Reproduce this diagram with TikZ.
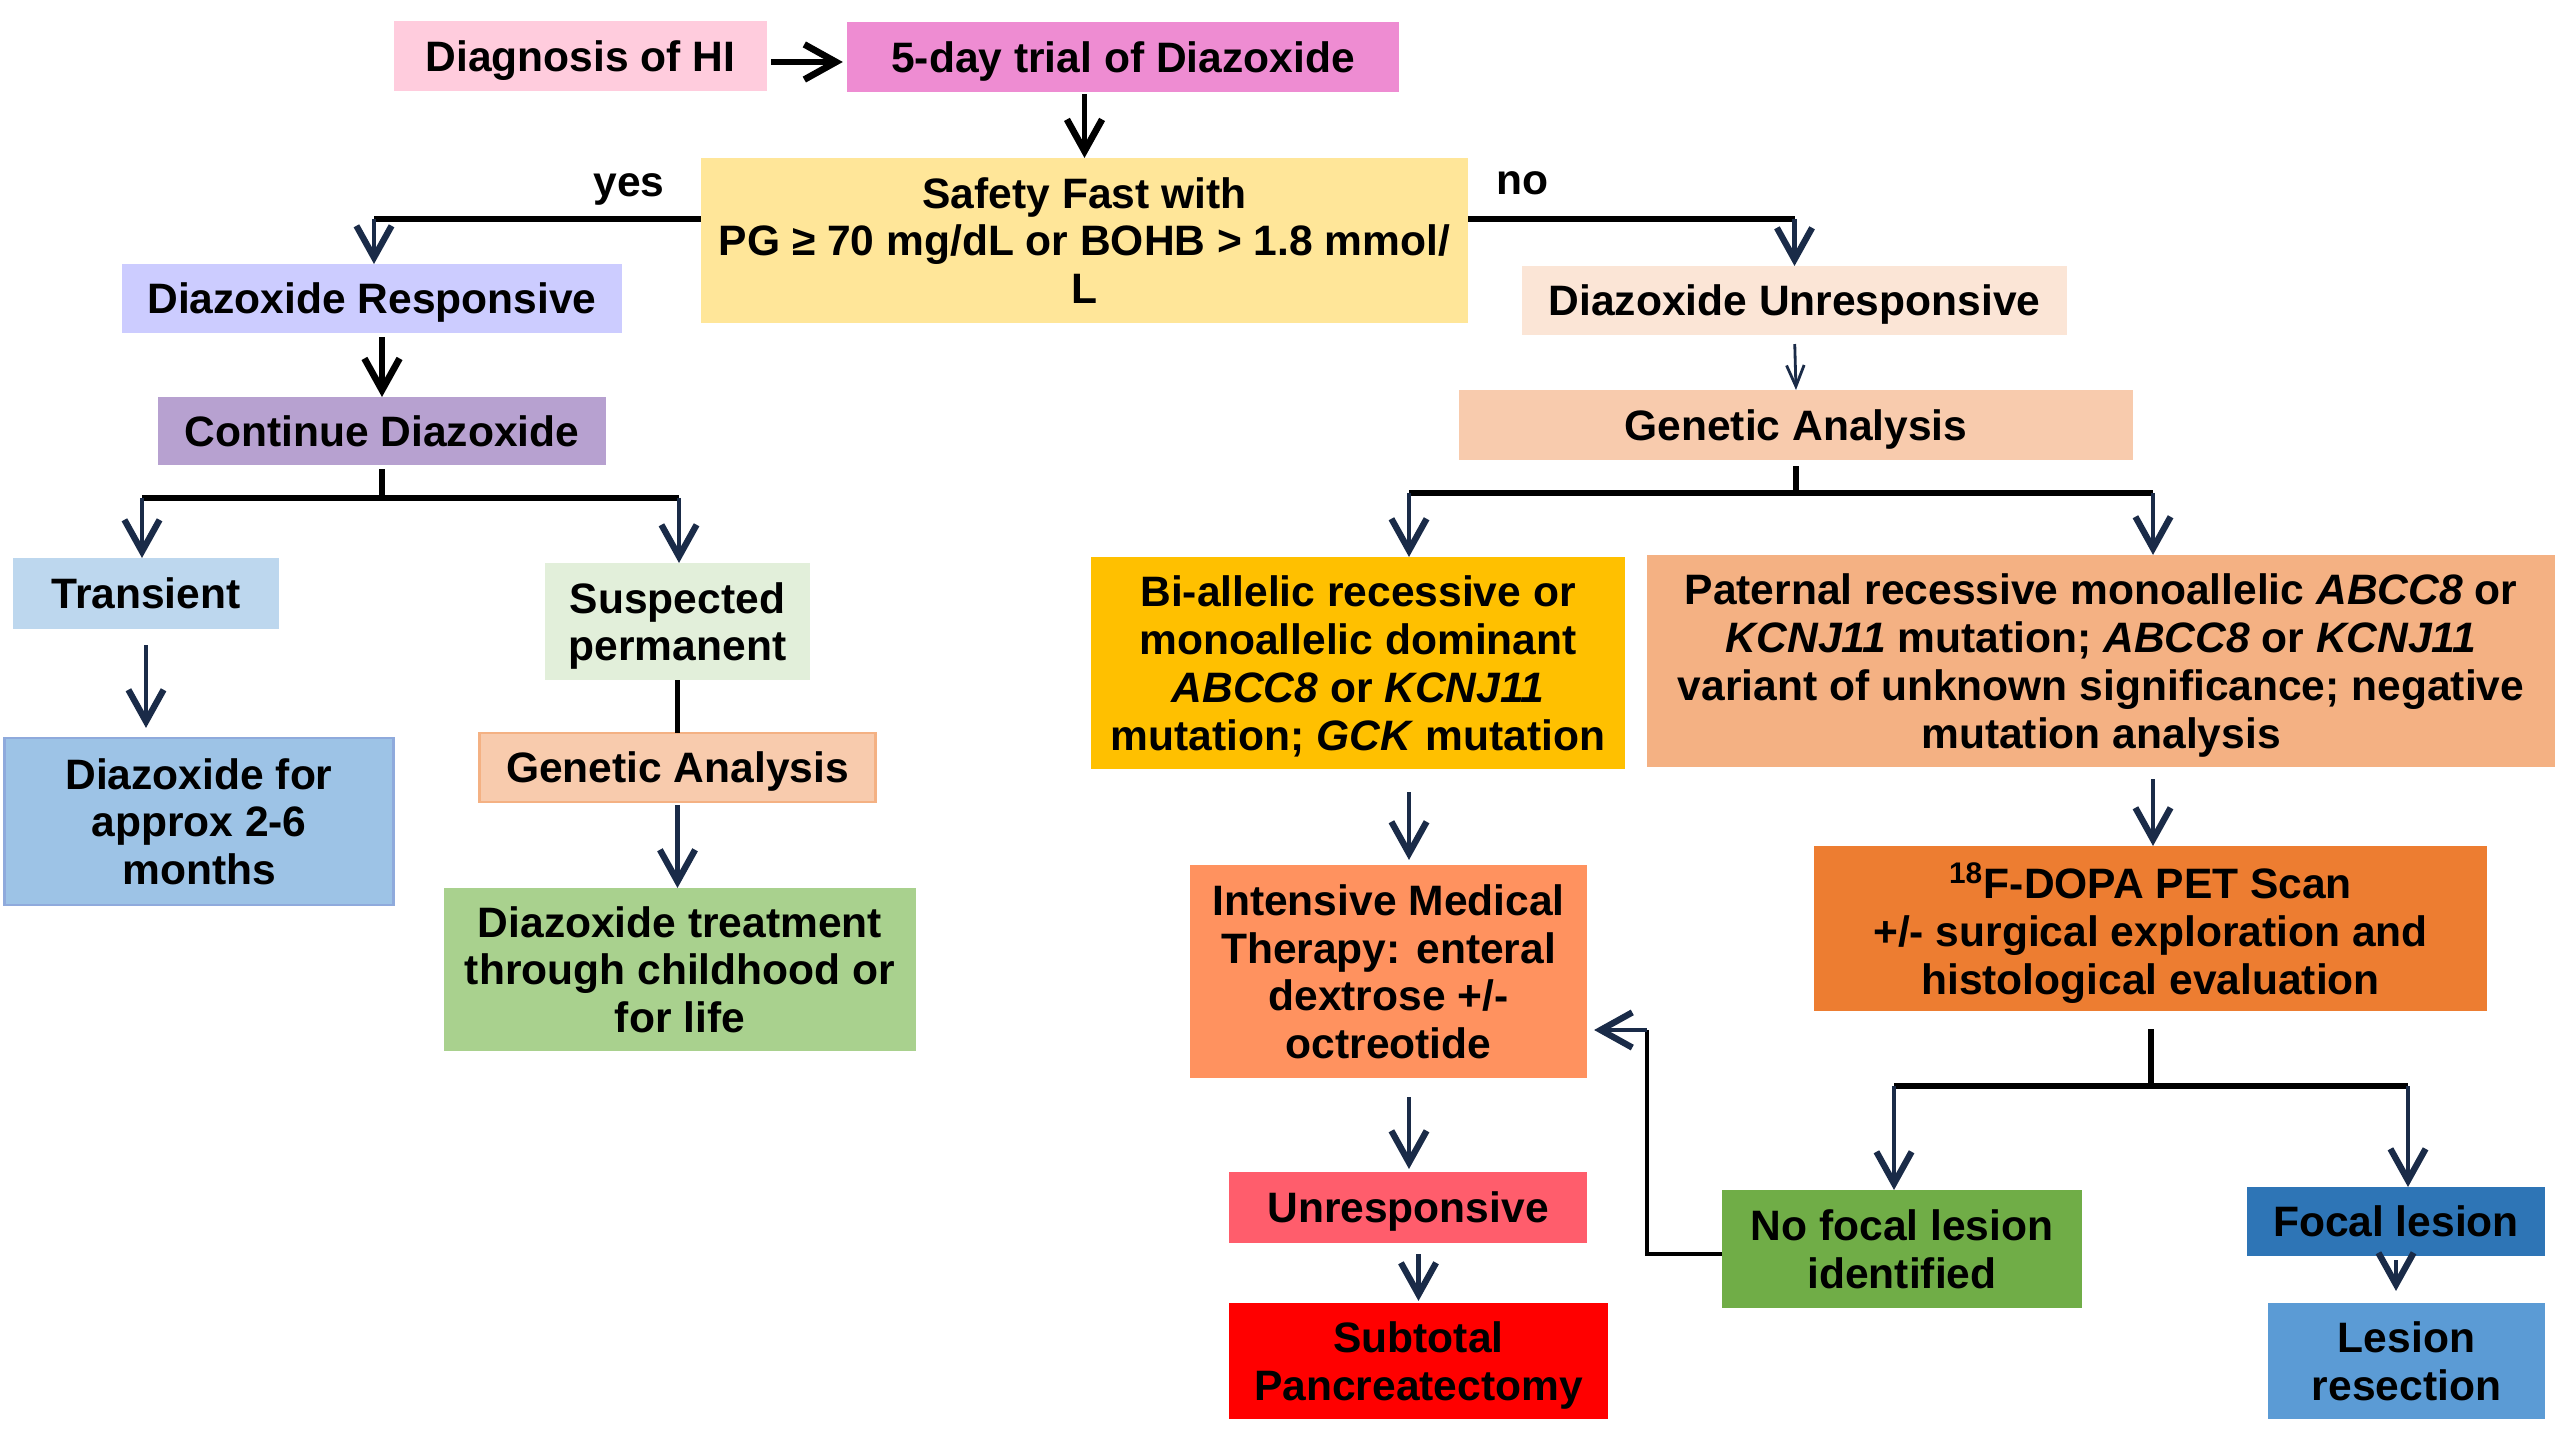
\documentclass[tikz,border=0pt]{standalone}
\usepackage{fontspec}
\setmainfont{Liberation Sans}
\usetikzlibrary{arrows.meta}
\definecolor{navy}{HTML}{1A2B48}
\definecolor{cDiag}{HTML}{FFCCDD}
\definecolor{cTrial}{HTML}{EE8CD2}
\definecolor{cSafe}{HTML}{FFE699}
\definecolor{cResp}{HTML}{CCCCFF}
\definecolor{cCont}{HTML}{B7A1D0}
\definecolor{cTrans}{HTML}{BDD7EE}
\definecolor{cApprox}{HTML}{9DC3E6}
\definecolor{cApproxB}{HTML}{8FAADC}
\definecolor{cSusp}{HTML}{E2EFDA}
\definecolor{cGen}{HTML}{F8CBAD}
\definecolor{cGenB}{HTML}{F4B183}
\definecolor{cTreat}{HTML}{A9D18E}
\definecolor{cUnresp}{HTML}{FBE5D6}
\definecolor{cBi}{HTML}{FFC000}
\definecolor{cPat}{HTML}{F4B183}
\definecolor{cInt}{HTML}{FF925F}
\definecolor{cUnr}{HTML}{FF5D6C}
\definecolor{cSub}{HTML}{FF0000}
\definecolor{cDopa}{HTML}{ED7D31}
\definecolor{cNof}{HTML}{70AD47}
\definecolor{cFoc}{HTML}{2E75B6}
\definecolor{cLes}{HTML}{5B9BD5}
\newcommand\nd[1]{\raisebox{0pt}[\height][0pt]{#1}}
\begin{document}
\begin{tikzpicture}[x=0.01cm,y=-0.01cm,
  bx/.style={inner sep=0pt, outer sep=0pt, align=center, font=\fontsize{12.1}{13.6}\selectfont\bfseries},
  lbl/.style={inner sep=0pt, font=\fontsize{12.1}{13.6}\selectfont\bfseries},
  stem/.style={line width=1.7pt, black},
  arr/.style={line width=1.4pt, navy, -{Straight Barb[length=9pt,width=10pt,line width=1.8pt]}},
  barr/.style={line width=1.6pt, black, -{Straight Barb[length=9pt,width=10pt,line width=1.9pt]}},
  thinarr/.style={line width=0.8pt, navy, -{Straight Barb[length=6pt,width=5pt,line width=0.8pt]}},
]
\useasboundingbox (0,0) rectangle (2560,1440);

% nodes
\node[bx, fill=cDiag, minimum width=3.73cm, minimum height=0.70cm] (diag) at (580.5,56) {\nd{Diagnosis of HI}};
\node[bx, fill=cTrial, minimum width=5.52cm, minimum height=0.70cm] (trial) at (1123,57) {\nd{5-day trial of Diazoxide}};
\node[bx, fill=cSafe, minimum width=7.67cm, minimum height=1.65cm] (safety) at (1084.5,240.5) {Safety Fast with\\PG ≥ 70 mg/dL or BOHB > 1.8 mmol/\\\nd{L}};
\node[lbl] (yes) at (629,185) {\nd{yes}};
\node[lbl] (no) at (1522,183) {\nd{no}};

\node[bx, fill=cResp, minimum width=5.00cm, minimum height=0.69cm] (resp) at (372,298.5) {\nd{Diazoxide Responsive}};
\node[bx, fill=cCont, minimum width=4.48cm, minimum height=0.68cm] (cont) at (382,431) {\nd{Continue Diazoxide}};
\node[bx, fill=cTrans, minimum width=2.66cm, minimum height=0.71cm] (trans) at (146,593.5) {\nd{Transient}};
\node[bx, fill=cApprox, draw=cApproxB, line width=0.8pt, minimum width=3.88cm, minimum height=1.67cm] (approx) at (199,821.5) {Diazoxide for\\approx 2-6\\\nd{months}};
\node[bx, fill=cSusp, minimum width=2.65cm, minimum height=1.17cm] (susp) at (677.5,621.5) {Suspected\\\nd{permanent}};
\node[bx, fill=cGen, draw=cGenB, line width=0.8pt, minimum width=3.95cm, minimum height=0.69cm] (gen1) at (677.5,767.5) {\nd{Genetic Analysis}};
\node[bx, fill=cTreat, minimum width=4.72cm, minimum height=1.63cm] (treat) at (680,969.5) {Diazoxide treatment\\through childhood or\\\nd{for life}};

\node[bx, fill=cUnresp, minimum width=5.45cm, minimum height=0.69cm] (unresp) at (1794.5,300.5) {\nd{Diazoxide Unresponsive}};
\node[bx, fill=cGen, minimum width=6.74cm, minimum height=0.70cm] (gen2) at (1796,425) {\nd{Genetic Analysis}};
\node[bx, fill=cBi, minimum width=5.34cm, minimum height=2.12cm] (bi) at (1358,663) {Bi-allelic recessive or\\monoallelic dominant\\\textit{ABCC8} or \textit{KCNJ11}\\\nd{mutation; \textit{GCK} mutation}};
\node[bx, fill=cPat, minimum width=9.08cm, minimum height=2.12cm] (pat) at (2101,661) {Paternal recessive monoallelic \textit{ABCC8} or\\\textit{KCNJ11} mutation; \textit{ABCC8} or \textit{KCNJ11}\\variant of unknown significance; negative\\\nd{mutation analysis}};
\node[bx, fill=cInt, minimum width=3.97cm, minimum height=2.13cm] (int) at (1388.5,971.5) {Intensive Medical\\Therapy: enteral\\dextrose +/-\\\nd{octreotide}};
\node[bx, fill=cUnr, minimum width=3.58cm, minimum height=0.71cm] (unr) at (1408,1207.5) {\nd{Unresponsive}};
\node[bx, fill=cSub, minimum width=3.79cm, minimum height=1.16cm] (sub) at (1418.5,1361) {Subtotal\\\nd{Pancreatectomy}};
\node[bx, fill=cDopa, minimum width=6.73cm, minimum height=1.65cm] (dopa) at (2150.5,928.5) {\textsuperscript{18}F-DOPA PET Scan\\+/- surgical exploration and\\\nd{histological evaluation}};
\node[bx, fill=cNof, minimum width=3.60cm, minimum height=1.18cm] (nof) at (1902,1249) {No focal lesion\\\nd{identified}};
\node[bx, fill=cFoc, minimum width=2.98cm, minimum height=0.69cm] (foc) at (2396,1221.5) {\nd{Focal lesion}};
\node[bx, fill=cLes, minimum width=2.77cm, minimum height=1.16cm] (les) at (2406.5,1361) {Lesion\\\nd{resection}};

% coordinates
\coordinate (yl) at (374,219);
\coordinate (nr) at (1794.5,219);
\coordinate (lb1) at (142,498);
\coordinate (lb2) at (679,498);
\coordinate (rb1) at (1409,493);
\coordinate (rb2) at (2153,493);
\coordinate (db1) at (1894,1086);
\coordinate (db2) at (2408,1086);
\coordinate (fbt) at (1647,1030);

% connectors
\draw[barr, shorten <=0.04cm, shorten >=0.04cm] (diag.east |- 0,62) -- (trial.west |- 0,62);
\draw[barr, line width=1.4pt, shorten <=0.02cm] (safety.north |- trial.south) -- (safety.north);
\draw[stem] (safety.west |- yl) -- (yl);
\draw[arr] (yl) -- (resp.north -| yl);
\draw[stem] (safety.east |- nr) -- (nr);
\draw[arr] (nr) -- (unresp.north);

\draw[barr, shorten <=0.04cm] (cont.north |- resp.south) -- (cont.north);
\draw[stem, shorten <=0.04cm] (cont.south) -- (cont.south |- lb1);
\draw[stem] (lb1) -- (lb2);
\draw[arr] (lb1) -- (trans.north -| lb1);
\draw[arr] (lb2) -- (susp.north -| lb2);
\draw[arr, shorten <=0.16cm, shorten >=0.10cm] (trans.south) -- (trans.south |- approx.north);
\draw[line width=1.4pt] (susp.south) -- (gen1.north);
\draw[arr, shorten <=0.03cm] (gen1.south) -- (treat.north -| gen1.south);

\draw[thinarr, shorten <=0.09cm] (unresp.south) -- (gen2.north);
\draw[stem, shorten <=0.06cm] (gen2.south) -- (gen2.south |- rb1);
\draw[stem] (rb1) -- (rb2);
\draw[arr] (rb1) -- (bi.north -| rb1);
\draw[arr] (rb2) -- (pat.north -| rb2);

\draw[arr, shorten <=0.23cm, shorten >=0.05cm] (bi.south -| rb1) -- (int.north -| rb1);
\draw[arr, shorten <=0.19cm, shorten >=0.03cm] (int.south -| rb1) -- (unr.north -| rb1);
\draw[arr, shorten <=0.11cm, shorten >=0.02cm] (unr.south -| sub.north) -- (sub.north);
\draw[arr, shorten <=0.12cm] (pat.south -| rb2) -- (dopa.north -| rb2);

\draw[stem, shorten <=0.18cm] (dopa.south) -- (dopa.south |- db1);
\draw[stem] (db1) -- (db2);
\draw[arr] (db1) -- (nof.north -| db1);
\draw[arr] (db2) -- (foc.north -| db2);
\draw[arr, shorten <=0.04cm, shorten >=0.12cm] (foc.south) -- (foc.south |- les.north);

\draw[line width=1.4pt] (nof.west |- 0,1254) -| (fbt);
\draw[arr, shorten >=0.07cm] (fbt) -- (int.east |- fbt);
\end{tikzpicture}
\end{document}
